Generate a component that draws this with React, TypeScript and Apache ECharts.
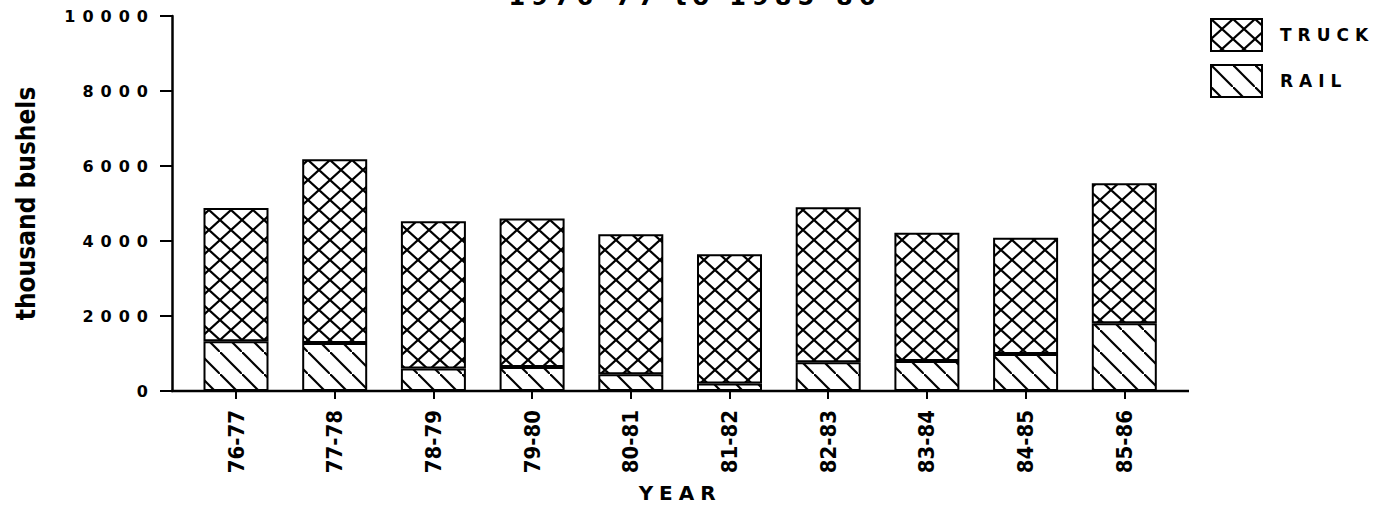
import React, { useEffect, useRef } from "react";
import * as echarts from "echarts";

const categories = ["76-77", "77-78", "78-79", "79-80", "80-81", "81-82", "82-83", "83-84", "84-85", "85-86"];
const rail = [1330, 1280, 600, 640, 450, 200, 770, 800, 990, 1810];
const truck = [3550, 4900, 3930, 3960, 3730, 3450, 4130, 3420, 3100, 3730];
const yMin = 0;
const yMax = 10000;
const yStep = 2000;
const titleText = "1976-77 to 1985-86";
const xName = "YEAR";
const yName = "thousand bushels";

const WIDE = '"DejaVu Sans", spacedwide';
const WIDEY = '"DejaVu Sans", spacedy';
const NARROW = '"DejaVu Sans Condensed", "Liberation Sans Narrow", "Roboto Condensed", "Open Sans", sans-serif';

function makePattern(kind: "cross" | "diag") {
  const w = 22;
  const h = kind === "cross" ? 20 : 22;
  const c = document.createElement("canvas");
  c.width = w;
  c.height = h;
  const ctx = c.getContext("2d")!;
  ctx.fillStyle = "#fff";
  ctx.fillRect(0, 0, w, h);
  ctx.strokeStyle = "#000";
  ctx.lineWidth = 2.2;
  ctx.beginPath();
  ctx.moveTo(-w, -h);
  ctx.lineTo(2 * w, 2 * h);
  if (kind === "cross") {
    ctx.moveTo(2 * w, -h);
    ctx.lineTo(-w, 2 * h);
  }
  ctx.stroke();
  return { image: c, repeat: "repeat", imageWidth: w, imageHeight: h } as any;
}

export default function App() {
  const ref = useRef<HTMLDivElement>(null);
  useEffect(() => {
    if (!ref.current) return;
    const chart = echarts.init(ref.current, null, { renderer: "svg" });
    const crossPat = makePattern("cross");
    const diagPat = makePattern("diag");
    const barStyle = (pat: any) => ({ color: pat, borderColor: "#000", borderWidth: 2 });
    chart.setOption({
      animation: false,
      backgroundColor: "#fff",
      grid: { left: 186.65, right: 216.35, top: 16, bottom: 120, containLabel: false },
      legend: {
        orient: "vertical",
        left: 1205,
        top: 13,
        icon: "rect",
        itemWidth: 51,
        itemHeight: 32,
        itemGap: 12,
        data: ["TRUCK", "RAIL"],
        itemStyle: { borderColor: "#000", borderWidth: 2 },
        formatter: "{a|{name}}",
        textStyle: {
          fontFamily: WIDE,
          fontWeight: "bold",
          fontSize: 17,
          color: "#000",
          rich: {
            a: {
              fontFamily: WIDE,
              fontWeight: "bold",
              fontSize: 17,
              color: "#000",
              padding: [0, 0, 0, 13],
            },
          },
        },
      },
      graphic: [
        {
          type: "text",
          x: 695,
          y: 9,
          style: {
            text: titleText,
            font: `bold 24px ${WIDE}`,
            textAlign: "center",
            textVerticalAlign: "bottom",
            fill: "#000",
          },
        },
        {
          type: "line",
          shape: { x1: 171, y1: 391, x2: 1189, y2: 391 },
          style: { stroke: "#000", lineWidth: 2.5 },
          z: 10,
        },
      ],
      xAxis: {
        type: "category",
        data: categories,
        boundaryGap: true,
        axisLine: { show: false },
        axisTick: { show: true, alignWithLabel: true, length: 8, lineStyle: { color: "#000", width: 2 } },
        axisLabel: {
          rotate: 90,
          margin: 19,
          fontFamily: NARROW,
          fontWeight: "bold",
          fontSize: 22,
          color: "#000",
        },
        name: xName,
        nameLocation: "middle",
        nameGap: 92,
        nameTextStyle: { fontFamily: WIDE, fontWeight: "bold", fontSize: 20, color: "#000" },
      },
      yAxis: {
        type: "value",
        min: yMin,
        max: yMax,
        interval: yStep,
        offset: 14.65,
        axisLine: { show: true, lineStyle: { color: "#000", width: 2.5 } },
        axisTick: { show: true, inside: false, length: 12, lineStyle: { color: "#000", width: 2 } },
        splitLine: { show: false },
        axisLabel: {
          margin: 17,
          formatter: (v: number) => String(v),
          fontFamily: WIDEY,
          fontWeight: "bold",
          fontSize: 16,
          color: "#000",
        },
        name: yName,
        nameLocation: "middle",
        nameGap: 133,
        nameTextStyle: { fontFamily: NARROW, fontWeight: "bold", fontSize: 26, color: "#000" },
      },
      series: [
        {
          name: "RAIL",
          type: "bar",
          stack: "total",
          barWidth: 65,
          data: rail,
          itemStyle: barStyle(diagPat),
        },
        {
          name: "TRUCK",
          type: "bar",
          stack: "total",
          barWidth: 65,
          data: truck,
          itemStyle: barStyle(crossPat),
        },
      ],
    });
    return () => chart.dispose();
  }, []);
  return (
    <>
      <style>{`#chartbox text[style*="spacedwide"]{letter-spacing:6px;} #chartbox text[style*="spacedy"]{letter-spacing:7px;}`}</style>
      <div
        id="chartbox"
        ref={ref}
        style={{ position: "absolute", left: 0, top: 0, width: 1390, height: 511, background: "#fff" }}
      />
    </>
  );
}
